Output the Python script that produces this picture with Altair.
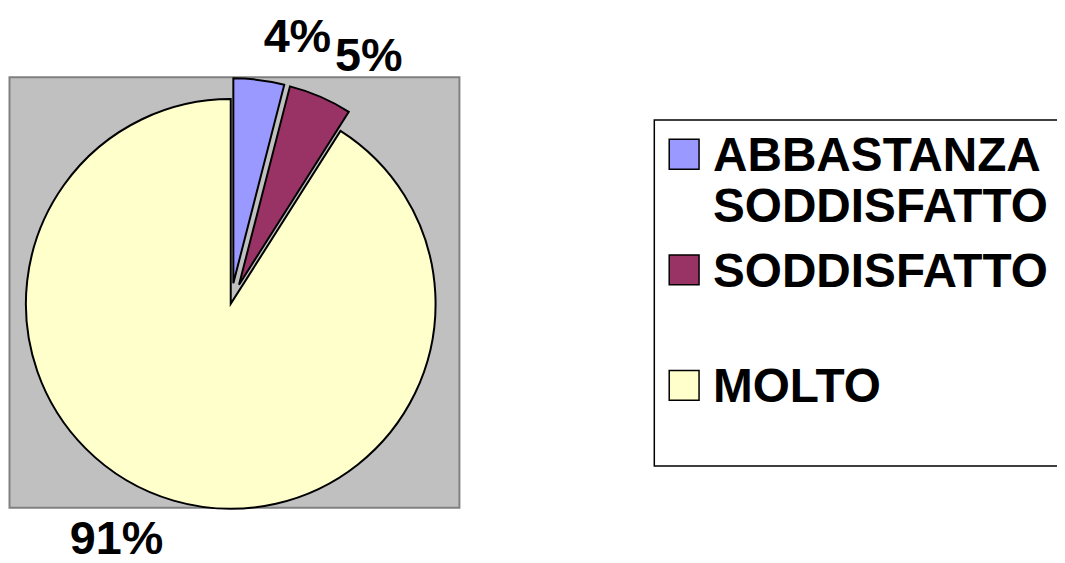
import altair as alt
import pandas as pd

# ---- data ----
categories = ["ABBASTANZA SODDISFATTO", "SODDISFATTO", "MOLTO"]
values = [4, 5, 91]
pct_labels = ["4%", "5%", "91%"]
legend_labels = ["ABBASTANZA\nSODDISFATTO", "SODDISFATTO", "MOLTO"]
colors = ["#9999FF", "#993366", "#FFFFCC"]

# ---- layout / style constants ----
W, H = 1055, 555
CX, CY = 224, 296
R = 206
EXPLODE = 21
RLX, RLY = 243, 234
FONT = "Liberation Sans"

df = pd.DataFrame({
    "cat": categories,
    "value": values,
    "label": pct_labels,
    "legend": legend_labels,
    "idx": list(range(len(categories))),
})

color = alt.Color("cat:N", scale=alt.Scale(domain=categories, range=colors), legend=None)

base = alt.Chart(df).transform_window(
    cum="sum(value)", sort=[alt.SortField("idx", order="ascending")], frame=[None, 0]
).transform_joinaggregate(
    total="sum(value)", maxv="max(value)"
).transform_calculate(
    start="datum.cum - datum.value",
    mid="(datum.cum - datum.value / 2) / datum.total * 2 * PI",
    ex=f"datum.value == datum.maxv ? 0 : {EXPLODE}",
).transform_calculate(
    px=f"{CX} + datum.ex * sin(datum.mid)",
    py=f"{CY} - datum.ex * cos(datum.mid)",
    lx=f"{CX} + ({RLX} + datum.ex) * sin(datum.mid)",
    ly=f"{CY} - ({RLY} + datum.ex) * cos(datum.mid)",
)

deco = alt.Chart(pd.DataFrame({"a": [0]}))

plot_area = deco.mark_rect(fill="#C0C0C0", stroke="#808080", strokeWidth=2).encode(
    x=alt.value(1.5), x2=alt.value(454), y=alt.value(68), y2=alt.value(501)
)

arcs = base.mark_arc(radius=R, stroke="black", strokeWidth=2).encode(
    theta=alt.Theta("start:Q", scale=alt.Scale(domain=[0, sum(values)])),
    theta2=alt.Theta2("cum:Q"),
    x=alt.X("px:Q", scale=None),
    y=alt.Y("py:Q", scale=None),
    fill=color,
)

txt_style = dict(font=FONT, fontSize=47, fontWeight="bold", color="black")

labels_right = base.transform_filter("sin(datum.mid) >= 0").mark_text(
    align="left", baseline="alphabetic", **txt_style
).encode(x=alt.X("lx:Q", scale=None), y=alt.Y("ly:Q", scale=None), text="label:N")

labels_left = base.transform_filter("sin(datum.mid) < 0").mark_text(
    align="right", baseline="top", dy=-10, **txt_style
).encode(x=alt.X("lx:Q", scale=None), y=alt.Y("ly:Q", scale=None), text="label:N")

legend_box = deco.mark_rect(fill="white", stroke="black", strokeWidth=1.5).encode(
    x=alt.value(650), x2=alt.value(1100), y=alt.value(111), y2=alt.value(459)
)

ly_enc = alt.Y("cat:N", sort=categories,
               scale=alt.Scale(domain=categories, range=[145.5, 378], padding=0), axis=None)

legend_sym = alt.Chart(df).mark_square(size=900, opacity=1, stroke="black", strokeWidth=1.5).encode(
    x=alt.value(680), y=ly_enc, fill=color
)

legend_txt = alt.Chart(df).mark_text(
    align="left", baseline="alphabetic", dy=17, lineBreak="\n", lineHeight=51,
    font=FONT, fontSize=48, fontWeight="bold", color="black"
).encode(x=alt.value(709), y=ly_enc, text="legend:N")

chart = alt.layer(
    plot_area, arcs, labels_right, labels_left, legend_box, legend_sym, legend_txt
).resolve_scale(
    x="independent", y="independent"
).properties(
    width=W, height=H, autosize=alt.AutoSizeParams(type="none"), padding=0
).configure_view(stroke=None)

chart.save("out.html", embed_options={"renderer": "svg", "actions": False})
